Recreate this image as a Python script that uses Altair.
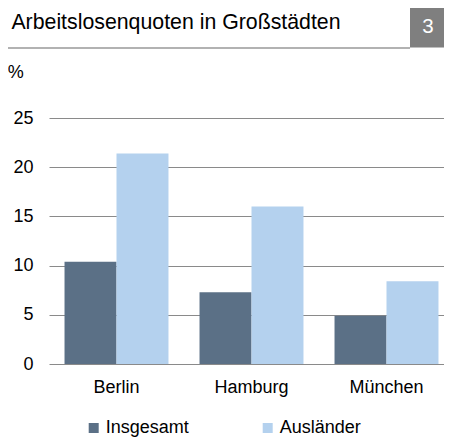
import altair as alt
import pandas as pd

cities = ["Berlin", "Hamburg", "München"]
series = ["Insgesamt", "Ausländer"]
insgesamt = [10.4, 7.3, 4.9]
auslaender = [21.4, 16.0, 8.4]
y_ticks = [0, 5, 10, 15, 20, 25]
title_text = ["Arbeitslosenquoten in Großstädten"]
badge_text = ["3"]
unit_text = ["%"]
colors = ["#5b7086", "#b4d1ee"]

rows = []
for c, a, b in zip(cities, insgesamt, auslaender):
    rows.append({"Stadt": c, "Reihe": series[0], "Wert": a})
    rows.append({"Stadt": c, "Reihe": series[1], "Wert": b})
df = pd.DataFrame(rows)

W, H = 395, 246
FONT = "Liberation Sans"

bars = alt.Chart(df).mark_bar().encode(
    x=alt.X("Stadt:N", sort=cities,
            scale=alt.Scale(paddingInner=0.23, paddingOuter=0.115, range=[0, 405]),
            axis=alt.Axis(title=None, labelAngle=0, domain=False, ticks=False,
                          labelFontSize=18, labelPadding=14, labelColor="#000",
                          labelFont=FONT)),
    xOffset=alt.XOffset("Reihe:N", sort=series,
                        scale=alt.Scale(paddingInner=0, paddingOuter=0)),
    y=alt.Y("Wert:Q", scale=alt.Scale(domain=[0, 25], nice=False),
            axis=alt.Axis(title=None, values=y_ticks, domain=False, ticks=False,
                          grid=True, gridColor="#8a8a8a", gridWidth=1,
                          labelFontSize=18, labelPadding=16, labelColor="#000",
                          labelFont=FONT)),
    color=alt.Color("Reihe:N", sort=series,
                    scale=alt.Scale(domain=series, range=colors),
                    legend=alt.Legend(title=None, orient="none", legendX=35.7, legendY=301,
                                      direction="horizontal", symbolType="square",
                                      symbolSize=100, symbolStrokeWidth=0,
                                      labelFontSize=18, labelOffset=3, columnPadding=69,
                                      labelFont=FONT, labelColor="#000", padding=0)),
)

title = alt.Chart(pd.DataFrame({"t": title_text})).mark_text(
    align="left", baseline="alphabetic", fontSize=21.3, font=FONT, color="#000"
).encode(x=alt.value(-37.6), y=alt.value(-89), text="t:N")

header_line = alt.Chart(pd.DataFrame({"t": title_text})).mark_rule(
    color="#999999", strokeWidth=1.5
).encode(x=alt.value(-49), x2=alt.value(361), y=alt.value(-70))

badge = alt.Chart(pd.DataFrame({"t": badge_text})).mark_rect(
    color="#7f7f7f"
).encode(x=alt.value(361), x2=alt.value(395), y=alt.value(-113.5), y2=alt.value(-70.5))

badge_label = alt.Chart(pd.DataFrame({"t": badge_text})).mark_text(
    align="center", baseline="alphabetic", fontSize=20.5, font=FONT, color="#ffffff"
).encode(x=alt.value(379), y=alt.value(-85.2), text="t:N")

unit = alt.Chart(pd.DataFrame({"t": unit_text})).mark_text(
    align="left", baseline="alphabetic", fontSize=18, font=FONT, color="#000"
).encode(x=alt.value(-41.3), y=alt.value(-40.5), text="t:N")

chart = alt.layer(bars, header_line, badge, badge_label, title, unit).properties(
    width=W, height=H,
    padding={"left": 41, "top": 110, "right": 0, "bottom": 74},
    autosize=alt.AutoSizeParams(type="none"),
).configure_view(stroke=None)

chart.save("out.html", embed_options={"renderer": "svg", "actions": False})
